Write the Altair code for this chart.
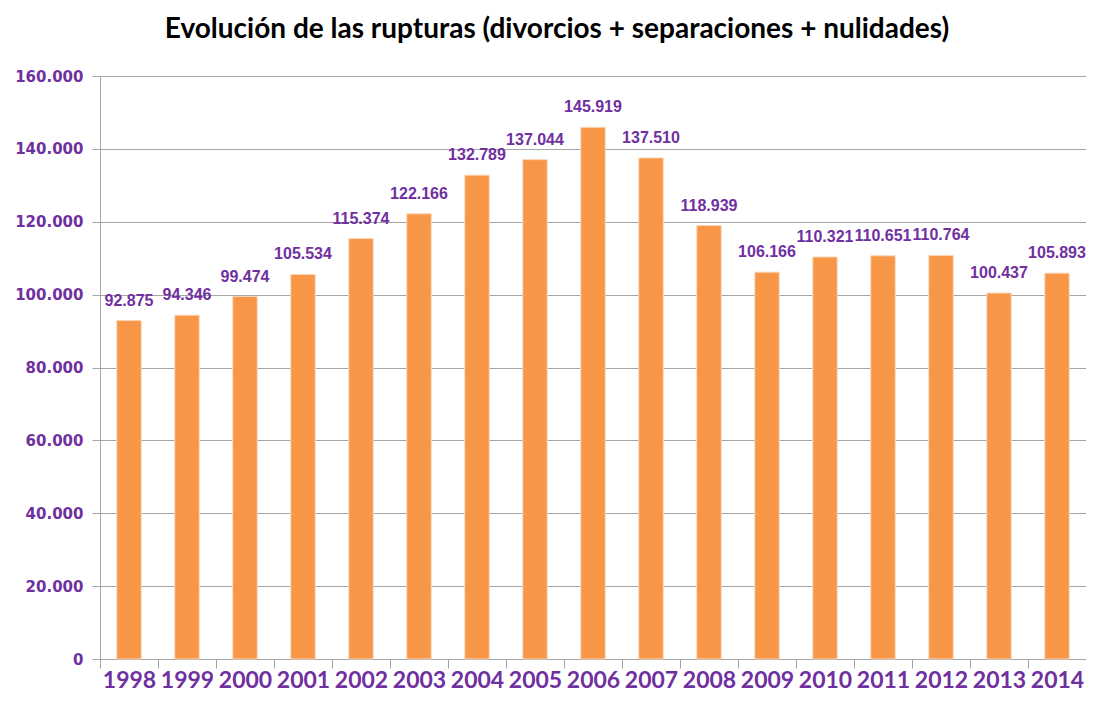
import altair as alt
import pandas as pd

years = ["1998", "1999", "2000", "2001", "2002", "2003", "2004", "2005", "2006",
         "2007", "2008", "2009", "2010", "2011", "2012", "2013", "2014"]
values = [92875, 94346, 99474, 105534, 115374, 122166, 132789, 137044, 145919,
          137510, 118939, 106166, 110321, 110651, 110764, 100437, 105893]
y_ticks = [0, 20000, 40000, 60000, 80000, 100000, 120000, 140000, 160000]

labels = [f"{v:,}".replace(",", ".") for v in values]
df = pd.DataFrame({"year": years, "value": values, "label": labels})

PURPLE = "#7030A0"
ORANGE = "#F79646"
GRAY = "#A6A6A6"

x_enc = alt.X("year:N", sort=years, title=None,
              scale=alt.Scale(paddingInner=0, paddingOuter=0),
              axis=alt.Axis(labelAngle=0, labelFont="Lato", labelFontWeight="bold",
                            labelFontSize=23, labelColor=PURPLE, labelPadding=19,
                            labelBaseline="alphabetic",
                            tickBand="extent", tickSize=9, tickColor=GRAY,
                            domainColor=GRAY, grid=False))
y_enc = alt.Y("value:Q", title=None,
              scale=alt.Scale(domain=[0, 160000], nice=False),
              axis=alt.Axis(values=y_ticks, labelFont="DejaVu Sans", labelFontWeight="bold",
                            labelFontSize=15, labelColor=PURPLE, labelPadding=9,
                            labelExpr="replace(format(datum.value, ','), /,/g, '.')",
                            tickSize=8, tickColor=GRAY, domainColor=GRAY,
                            gridColor=GRAY, grid=True))

bars = alt.Chart(df).mark_bar(color=ORANGE, stroke="#FBD4B4", strokeWidth=1,
                              width=alt.RelativeBandSize(0.42)).encode(x=x_enc, y=y_enc)

text = alt.Chart(df).mark_text(font="Liberation Sans", fontWeight="bold", fontSize=16,
                               color=PURPLE, baseline="alphabetic", dy=-15).encode(
    x=alt.X("year:N", sort=years), y="value:Q", text="label:N")

chart = (bars + text).properties(
    width=986, height=583,
    title=alt.TitleParams("Evolución de las rupturas (divorcios + separaciones + nulidades)",
                          font="Lato", fontWeight="bold", fontSize=28, color="#000000",
                          anchor="middle", dx=-36, offset=25),
    autosize=alt.AutoSizeParams(type="none"),
    padding={"left": 92, "top": 68, "right": 0, "bottom": 35},
).configure_view(stroke=None).configure(background="#FFFFFF")

chart.save("out.html", embed_options={"renderer": "svg", "actions": False})
